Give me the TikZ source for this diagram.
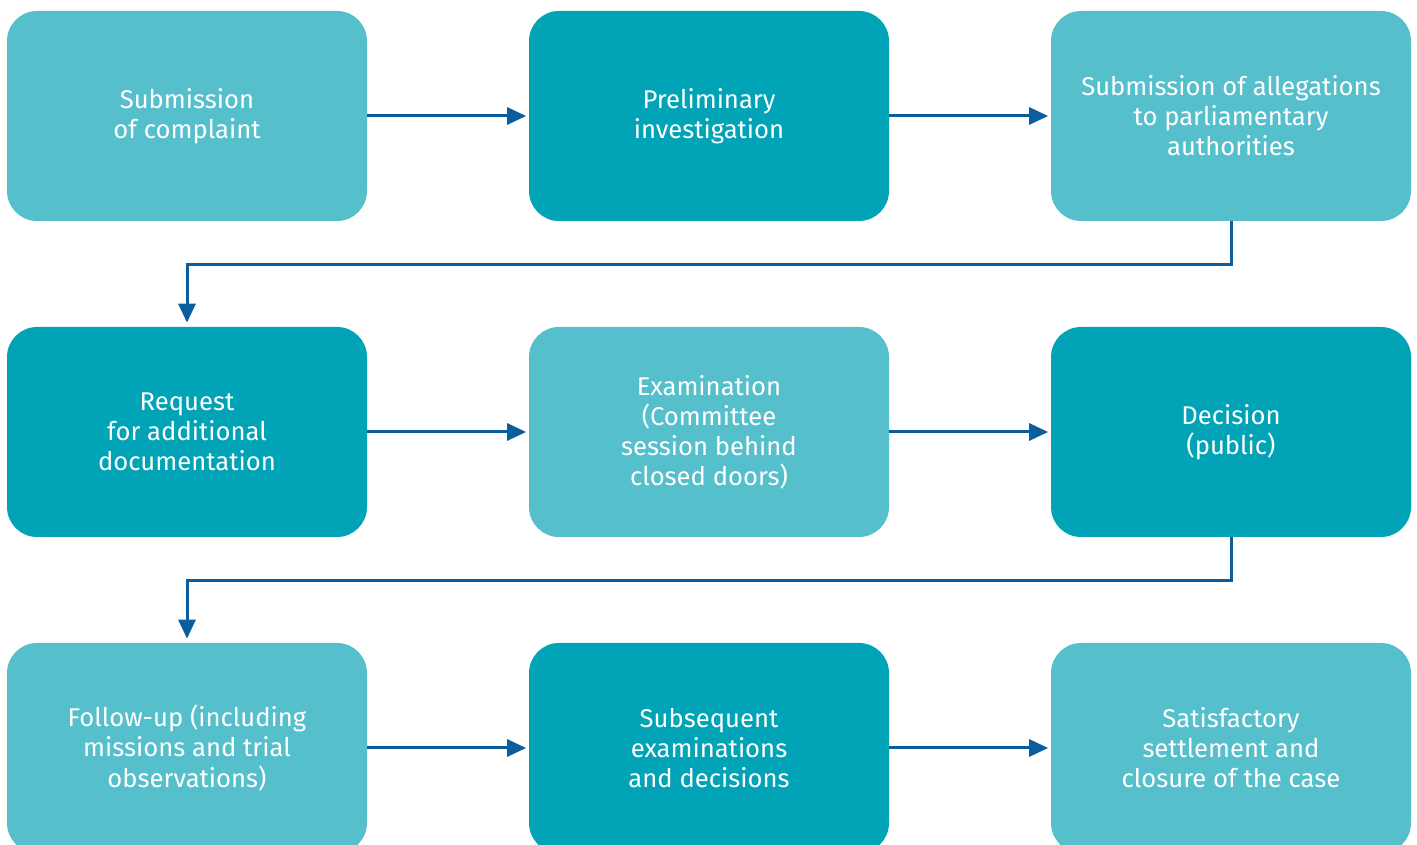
\documentclass[tikz,border=0pt]{standalone}
\usepackage{fontspec}
\setmainfont{Fira Sans}
\usepackage{tikz}
\usetikzlibrary{positioning,arrows.meta}

\definecolor{tealL}{HTML}{55BFCC}
\definecolor{tealD}{HTML}{00A4B6}
\definecolor{arrblue}{HTML}{0A5E9E}

\begin{document}
\begin{tikzpicture}[
  font=\fontsize{14.6}{17.1}\selectfont, >={Triangle[length=0.38cm, width=0.34cm]},
  box/.style ={rounded corners=0.6cm, fill=tealL, text=white, align=center,
               minimum width=7.2cm, minimum height=4.2cm, inner sep=0pt},
  boxd/.style={box, fill=tealD},
  arr/.style={->, line width=0.06cm, color=arrblue, shorten >=0.05cm},
]
\useasboundingbox (0,0) rectangle (28.34,-16.9);

% row 1
\node[box]  (cmpl)   at (3.74,-2.32)  {Submission\\of complaint};
\node[boxd] (prelim) at (14.18,-2.32) {Preliminary\\investigation};
\node[box]  (alleg)  at (24.62,-2.32) {Submission of allegations\\to parliamentary\\authorities};

% row 2
\node[boxd] (req)  at (3.74,-8.64)  {Request\\for additional\\documentation};
\node[box]  (exam) at (14.18,-8.64) {Examination\\(Committee\\session behind\\closed doors)};
\node[boxd] (dec)  at (24.62,-8.64) {Decision\\(public)};

% row 3
\node[box]  (follow) at (3.74,-14.96)  {Follow-up (including\\missions and trial\\observations)};
\node[boxd] (subseq) at (14.18,-14.96) {Subsequent\\examinations\\and decisions};
\node[box]  (settle) at (24.62,-14.96) {Satisfactory\\settlement and\\closure of the case};

\draw[arr] (cmpl.east) -- (prelim.west);
\draw[arr] (prelim.east) -- (alleg.west);
\draw[arr, shorten >=0.08cm] (alleg.south) -- ++(0,-0.86) -| (req.north);

\draw[arr] (req.east) -- (exam.west);
\draw[arr] (exam.east) -- (dec.west);
\draw[arr, shorten >=0.08cm] (dec.south) -- ++(0,-0.86) -| (follow.north);

\draw[arr] (follow.east) -- (subseq.west);
\draw[arr] (subseq.east) -- (settle.west);
\end{tikzpicture}
\end{document}
